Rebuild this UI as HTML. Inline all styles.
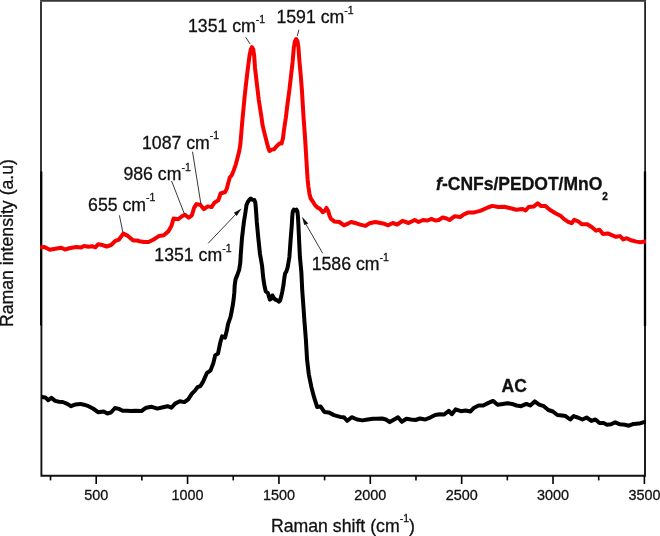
<!DOCTYPE html>
<html><head><meta charset="utf-8"><style>
html,body{margin:0;padding:0;background:#fff;}
body{width:660px;height:536px;overflow:hidden;}
svg{display:block;font-family:"Liberation Sans",sans-serif;will-change:transform;}
text{stroke:#111;stroke-width:0.3px;}
</style></head><body>
<svg width="660" height="536" viewBox="0 0 660 536">
<rect width="660" height="536" fill="#fff"/>
<g fill="none">
<path d="M41,172 V1.5 M645.1,1.5 V172" stroke="#222" stroke-width="1.8"/>
<rect x="40.1" y="0" width="605.9" height="1.75" fill="#363636"/>
<path d="M41.2,171.5 V325.5 M645,171.5 V326" stroke="#000" stroke-width="2.3"/>
<path d="M41.4,325 V475.8 H645 V325.5" stroke="#111" stroke-width="1.9"/>
</g>
<g stroke="#000" stroke-width="1.6"><line x1="50.52" y1="476" x2="50.52" y2="480.4"/><line x1="96.20" y1="476" x2="96.20" y2="484"/><line x1="141.88" y1="476" x2="141.88" y2="480.4"/><line x1="187.56" y1="476" x2="187.56" y2="484"/><line x1="233.25" y1="476" x2="233.25" y2="480.4"/><line x1="278.93" y1="476" x2="278.93" y2="484"/><line x1="324.61" y1="476" x2="324.61" y2="480.4"/><line x1="370.30" y1="476" x2="370.30" y2="484"/><line x1="415.98" y1="476" x2="415.98" y2="480.4"/><line x1="461.66" y1="476" x2="461.66" y2="484"/><line x1="507.34" y1="476" x2="507.34" y2="480.4"/><line x1="553.02" y1="476" x2="553.02" y2="484"/><line x1="598.71" y1="476" x2="598.71" y2="480.4"/><line x1="644.39" y1="476" x2="644.39" y2="484"/></g>
<defs><clipPath id="pr"><rect x="40.2" y="0" width="605.8" height="476"/></clipPath><clipPath id="pb"><rect x="41.2" y="0" width="604.8" height="476"/></clipPath></defs>
<g fill="none" stroke-linejoin="round" stroke-linecap="round" stroke-width="4">
<polyline stroke="#f80000" clip-path="url(#pr)" points="40,247.3 41.5,247.3 44.5,247 49.8,249.8 55.2,248.8 61.2,247.7 65,249.5 70.3,248 76.4,247 80.9,247.6 84,246 88.5,246.8 92.3,246.2 95.3,247.3 98.3,244.2 102.1,245 106.7,246.5 111.2,245 115,241.2 118.8,239.7 123.3,233.6 127.9,235.9 133.2,240.5 137,240.5 139.5,241.2 144.1,242 148.6,242 153.2,239.7 159.2,235.9 163.8,235.2 168.3,231.4 171.4,226 173.6,218.5 178.2,219.2 182,216.2 185,214.7 188.8,217.7 191.8,215.5 194.1,207.9 196.4,204.1 200.2,204.8 203.9,209.1 207.7,206.4 211.5,207.1 214.5,202.6 218.3,200.3 220.6,193.5 225.2,192 226.8,188.7 228.3,182.7 229.8,177.5 231.7,175.2 233.6,170.7 235.7,164.8 237.7,157.3 239.2,151.3 240.4,143.9 241.4,131.9 242.4,120 243.1,113 244.5,98 245.9,85 247.9,68 249.5,56 250.8,49.5 252,47.2 253.3,49.5 254.2,56 255,68 257,85 258.8,100 260.8,113 261.6,118 262.5,124.9 264.3,132.4 266.2,139.9 268.1,147.3 269.5,151 271.8,149.6 274.1,149.2 276.5,146.4 279.3,143.6 281.6,143.6 283,138 283.9,130.5 284.9,124 285.8,118 287.5,104 289.4,90 291,76 292.6,62 293.9,47 295,41.2 296.2,39 297.5,41.2 298.4,47 299.5,62 300.8,76 301.9,90 303.6,118 304.5,130 305.5,145 306.4,160 307.3,174.6 307.7,180 308.4,186.7 309.4,193.4 310.7,198.5 312.8,201.5 314.8,204.8 317.4,207.5 320.1,208.9 322.8,212.2 324.8,210.9 326.5,207.9 328.2,210.9 329.5,215.6 330.9,218.7 334.2,221.4 339.4,222 344,225.3 348.5,223.3 351.1,222 356.4,223.3 360.3,224.6 365.5,225.9 369.4,223.3 375.3,222 380.6,223 384.4,223.8 388.2,225.3 392.7,223 397.3,224.5 402.6,220.8 408.6,223 414.7,220 418.5,222 423,220 427.6,220.5 431.4,218.9 435.2,220.5 438.9,220 442.7,217.4 446.5,218.5 449.5,220 454.8,216.2 460.2,217 463.9,214.4 468.5,212.4 474.1,212.4 480.2,210.9 486.2,208.2 492.3,205.9 498.3,207 504.4,206.7 510.5,208.2 516.5,209.7 522.6,208.9 525.6,210.5 528.6,207 533.9,206.4 537.7,203.3 540.8,205.9 545.3,205.9 549.8,209.7 555.9,213.5 560.5,215.8 564.1,219.1 568.2,221.8 571.6,223.2 574.3,219.8 578.4,221.5 581.8,224.3 587.3,224.3 592,227.3 596.1,230.7 599.5,229.7 603,234.1 607.7,233.4 611.8,235.2 615.9,236.8 620,236.1 623.4,239.5 626.8,238.2 630.9,240.2 636.4,241.6 640.5,242.3 643.9,241.6 646.5,241.6"/>
<polyline stroke="#000" clip-path="url(#pb)" points="40,397.1 41.5,397.1 45.3,397.4 48.3,400.2 51.4,397.9 55.2,400.9 58.9,401.7 62.7,402 67.3,403.9 71.1,406.2 75.6,404.4 80.2,403.9 83.9,404.7 88.5,406.2 93,408.5 98.3,412.3 103.6,411.5 107.4,413.5 111.2,412.3 115,408 118.8,408.9 122.6,410.8 127.1,410.8 130.9,411.1 135.5,410.8 141.5,411 146.2,407.7 151.8,406.8 157.4,408.6 163,407.3 167.6,406.2 171.4,407.7 175.1,403.6 179.8,401.2 184.4,402.1 188.2,399.3 191.9,393.7 194.7,390.9 197.5,387.2 200.3,386.2 203.1,381.6 206.8,373.2 210.6,370.4 213.4,362.9 215.2,355.4 218,353.6 220.4,342 222.1,336.4 225.1,337.6 226.8,330.5 228.1,323.8 230.5,317.1 231.9,310 232.8,305.2 233.7,298.9 234.3,292.7 234.7,285.3 235.6,279.1 237.2,275.4 239.2,269.7 240.3,262.4 240.8,254 242,238 243.9,222 245.5,212 246.5,205 247.8,202 249.5,199.6 250.8,198.5 252.3,199.8 254.3,200 255.3,202.5 256,210 256.8,222 258.3,238 260,254 262.1,266 262.7,272.6 263.4,279.1 264.6,286.5 265.8,291.4 267.9,293 269.1,297.1 269.9,299.6 271.2,298.8 272.4,295.5 273.6,297.6 275.3,299.6 277.3,300.4 279,301.7 280.2,300.4 281,297.1 282.2,292.2 283.5,284.9 284.3,278.3 285.1,273.4 286.3,271.7 287.6,267.6 288.4,263 289.4,257 290.6,240 291.8,225 292.3,216 292.8,211.5 293.8,209.6 295.3,210.5 296.5,209.6 297.4,211.5 297.9,216 298.4,225 299.9,257 300.4,262 301.4,272.8 302.2,289.6 303.4,306.3 304.6,323.1 305.9,339.9 307.1,360.1 308.8,374.3 311.3,386.7 314.1,397.4 317.2,407.1 320.7,406.6 324.3,411.9 328.7,412.4 334,415.1 340.2,416.9 343.8,417.2 347.3,420.8 351.7,417.2 357.1,419.5 362.4,420.4 367.7,419.5 373,418.7 376.1,418.8 382.1,418.5 385.9,419.5 389.7,422.1 394.2,419.5 398,417.3 401.8,421.8 406.4,418.8 410.9,419.5 415.5,420 420,418.5 425.3,419.5 430.6,417.3 435.2,415 439.7,414.2 444.2,414.5 448.8,410.9 451.8,414.2 455.6,409.4 460.9,411.2 465.5,410.5 470.3,411.5 474.1,407.7 478.6,405.5 483.2,405.5 488.5,402.9 493,400.9 497.6,404.7 502.9,403.9 507.4,403.2 512,403.9 516.5,405.5 521.1,406.2 526.4,403.9 530.2,405.5 534.7,401.4 539.2,404.7 543.8,406.2 548.3,410 552.9,411.5 557.4,415 562,415.6 565.5,416.1 570.2,419.5 573.6,416.1 577.7,417.5 582.5,419.5 586.6,417.5 591.4,420.9 595.5,419.5 599.5,423 603.6,423 607,424.7 611.1,424.3 615.2,422.3 620,424.3 624.8,424.7 628.9,425.7 633.6,423.9 639.1,423.6 643.2,422.3 646.5,422"/>
</g>

<g font-size="14.4" fill="#111"><text x="96.20" y="499.6" text-anchor="middle">500</text><text x="187.56" y="499.6" text-anchor="middle">1000</text><text x="278.93" y="499.6" text-anchor="middle">1500</text><text x="370.30" y="499.6" text-anchor="middle">2000</text><text x="461.66" y="499.6" text-anchor="middle">2500</text><text x="553.02" y="499.6" text-anchor="middle">3000</text><text x="644.39" y="499.6" text-anchor="middle">3500</text></g>
<g stroke="#222" stroke-width="0.9" fill="none">
<line x1="245.7" y1="37.3" x2="250.2" y2="44.1"/>
<line x1="298.9" y1="29.7" x2="297.3" y2="36.1"/>
<line x1="192.5" y1="151.7" x2="200.9" y2="204"/>
<line x1="171.6" y1="181" x2="184.5" y2="214.2"/>
<line x1="119.4" y1="215.3" x2="122.8" y2="232.1"/>
<line x1="208.2" y1="243.3" x2="236" y2="214"/>
<line x1="322.7" y1="253.3" x2="305.5" y2="223.5"/>
</g>
<g fill="#111">
<polygon points="241.6,208.4 233.9,212.8 236.7,215.9"/>
<polygon points="302,216.8 304.2,225 308.3,223.5"/>
</g>
<g font-size="17.7" fill="#111">
<text x="188.0" y="32.0">1351 cm<tspan dy="-9.4" font-size="10.5">-1</tspan></text>
<text x="276.4" y="23.4">1591 cm<tspan dy="-9.4" font-size="10.5">-1</tspan></text>
<text x="142.0" y="148.6">1087 cm<tspan dy="-9.4" font-size="10.5">-1</tspan></text>
<text x="123.4" y="180.0">986 cm<tspan dy="-9.4" font-size="10.5">-1</tspan></text>
<text x="88.1" y="210.6">655 cm<tspan dy="-9.4" font-size="10.5">-1</tspan></text>
<text x="154.3" y="260.9">1351 cm<tspan dy="-9.4" font-size="10.5">-1</tspan></text>
<text x="311.7" y="270.0">1586 cm<tspan dy="-9.4" font-size="10.5">-1</tspan></text>
</g>
<text x="436.1" y="189.5" font-size="17.5" font-weight="bold" fill="#111"><tspan font-style="italic">f</tspan>-CNFs/PEDOT/MnO<tspan dy="10.3" font-size="10">2</tspan></text>
<text x="501.5" y="391.5" font-size="17.5" font-weight="bold" fill="#111">AC</text>
<text x="270.9" y="531.8" font-size="17.7" fill="#111">Raman shift (cm<tspan dy="-9.4" font-size="10.5">-1</tspan><tspan dy="9.4">)</tspan></text>
<text transform="translate(13.4,327.1) rotate(-90)" font-size="17.7" fill="#111">Raman intensity (a.u)</text>
</svg>
</body></html>
